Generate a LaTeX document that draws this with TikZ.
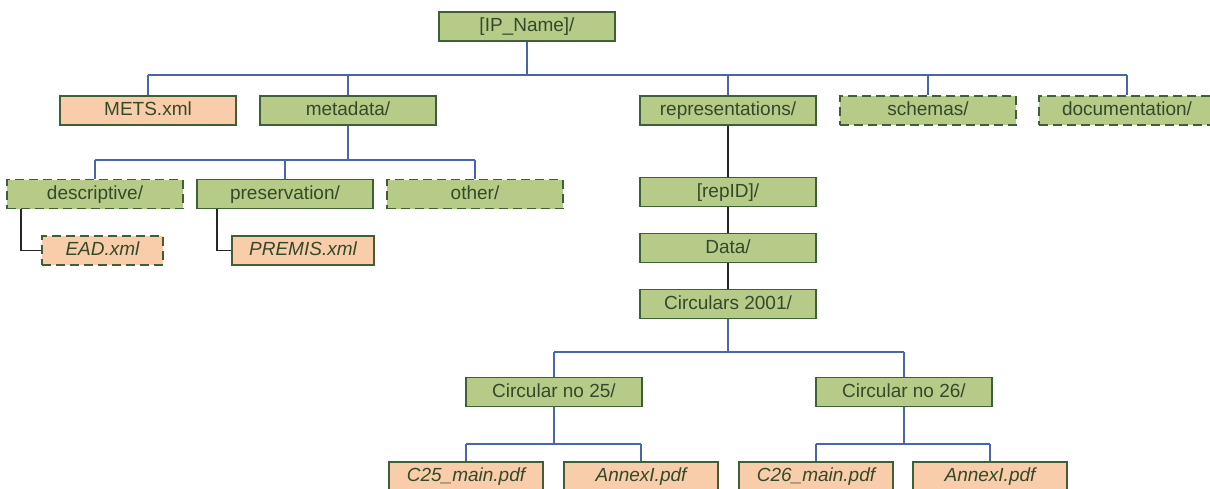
\documentclass[tikz,border=0pt]{standalone}
\usepackage{fontspec}
\setmainfont{Liberation Sans}
\usetikzlibrary{calc}
\definecolor{cLeaf}{RGB}{183,203,136}
\definecolor{cFile}{RGB}{250,205,170}
\definecolor{cEdge}{RGB}{62,96,52}
\definecolor{cText}{RGB}{50,74,42}
\definecolor{cBus}{RGB}{72,102,168}
\tikzset{
	dirbox/.style={draw=cEdge, line width=1.8pt, fill=cLeaf, text=cText,
		minimum width=176pt, minimum height=29pt, inner sep=0pt,
		text height=14pt, text depth=4pt,
		font=\fontsize{19}{21}\selectfont},
	filebox/.style={dirbox, fill=cFile},
	pdfbox/.style={filebox, minimum width=154pt, font=\fontsize{19}{21}\selectfont\itshape},
	optional/.style={dash pattern=on 9pt off 5pt},
	bus/.style={draw=cBus, line width=1.5pt},
	chain/.style={draw=black!85, line width=1.5pt},
}

\begin{document}
\begin{tikzpicture}[x=1pt,y=-1pt]
	\useasboundingbox (0,0) rectangle (1210,488);
	\clip (0,0) rectangle (1210,488);
	% top level
	\node[dirbox] (ip) at (527,26.5) {[IP\_Name]/};
	\node[filebox] (mets) at (148,110.5) {METS.xml};
	\node[dirbox] (meta) at (348,110.5) {metadata/};
	\node[dirbox] (repr) at (728,110.5) {representations/};
	\node[dirbox,optional] (schem) at (928,110.5) {schemas/};
	\node[dirbox,optional] (docu) at (1127,110.5) {documentation/};
	\coordinate (b1) at (527,75);
	\draw[bus] (ip.south) -- (b1);
	\draw[bus] (b1 -| mets) -- (b1 -| docu);
	\foreach \n in {mets,meta,repr,schem,docu}
		\draw[bus] (b1 -| \n) -- (\n.north);
	% metadata
	\node[dirbox,optional] (descr) at (95,194) {descriptive/};
	\node[dirbox] (pres) at (285,194) {preservation/};
	\node[dirbox,optional] (other) at (475,194) {other/};
	\node[filebox,optional,minimum width=121pt,font=\fontsize{19}{21}\selectfont\itshape] (ead) at (102.5,250.5) {EAD.xml};
	\node[filebox,minimum width=142pt,font=\fontsize{19}{21}\selectfont\itshape] (premis) at (303,250.5) {PREMIS.xml};
	\coordinate (b2) at (348,160);
	\draw[bus] (meta.south) -- (b2);
	\draw[bus] (b2 -| descr) -- (b2 -| other);
	\foreach \n in {descr,pres,other}
		\draw[bus] (b2 -| \n) -- (\n.north);
	\draw[chain] ([xshift=15pt]descr.south west) |- (ead.west);
	\draw[chain] ([xshift=21pt]pres.south west) |- (premis.west);
	% representations
	\node[dirbox] (rep) at (728,192) {[repID]/};
	\node[dirbox] (data) at (728,248) {Data/};
	\node[dirbox] (circ) at (728,304) {Circulars 2001/};
	\draw[chain] (repr) -- (rep);
	\draw[chain] (rep) -- (data);
	\draw[chain] (data) -- (circ);
	\node[dirbox] (c25) at (554,392) {Circular no 25/};
	\node[dirbox] (c26) at (904,392) {Circular no 26/};
	\coordinate (b3) at (728,352);
	\draw[bus] (circ.south) -- (b3);
	\draw[bus] (b3 -| c25) -- (b3 -| c26);
	\foreach \n in {c25,c26}
		\draw[bus] (b3 -| \n) -- (\n.north);
	% pdf files
	\node[pdfbox] (m25) at (466,476.5) {C25\_main.pdf};
	\node[pdfbox] (a25) at (641,476.5) {AnnexI.pdf};
	\node[pdfbox] (m26) at (816,476.5) {C26\_main.pdf};
	\node[pdfbox] (a26) at (990,476.5) {AnnexI.pdf};
	\coordinate (b4) at (554,444);
	\coordinate (b5) at (904,444);
	\draw[bus] (c25.south) -- (b4);
	\draw[bus] (b4 -| m25) -- (b4 -| a25);
	\draw[bus] (c26.south) -- (b5);
	\draw[bus] (b5 -| m26) -- (b5 -| a26);
	\foreach \n/\b in {m25/b4,a25/b4,m26/b5,a26/b5}
		\draw[bus] (\b -| \n) -- (\n.north);
\end{tikzpicture}
\end{document}
